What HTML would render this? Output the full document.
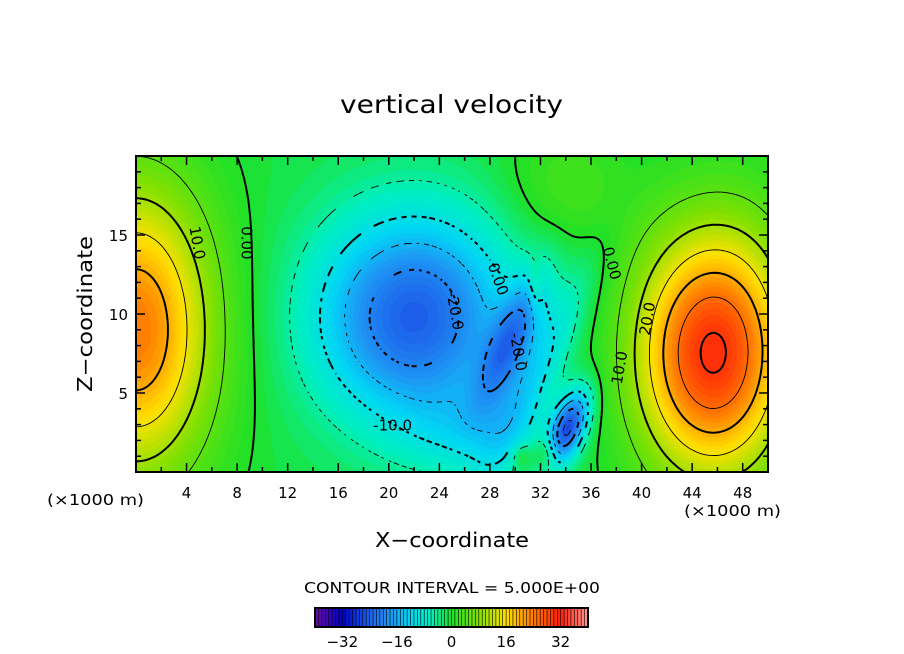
<!DOCTYPE html>
<html><head><meta charset="utf-8"><style>
body{margin:0;background:#fff;width:904px;height:654px;overflow:hidden;font-family:"Liberation Sans",sans-serif}
#wrap{position:relative;width:904px;height:654px}
canvas{position:absolute;left:136px;top:156px}
svg{position:absolute;left:0;top:0}
text{font-family:"DejaVu Sans","Liberation Sans",sans-serif;fill:#000}
</style></head><body>
<div id="wrap">
<canvas id="fill" width="632" height="316"></canvas>
<svg id="s" width="904" height="654">
<text x="340" y="113" font-size="25" textLength="223" lengthAdjust="spacingAndGlyphs">vertical velocity</text>
<text transform="translate(92,392) rotate(-90)" font-size="20" textLength="156" lengthAdjust="spacingAndGlyphs">Z−coordinate</text>
<text x="375" y="547" font-size="20" textLength="154" lengthAdjust="spacingAndGlyphs">X−coordinate</text>
<text x="47" y="505" font-size="15" textLength="97" lengthAdjust="spacingAndGlyphs">(×1000 m)</text>
<text x="684" y="516" font-size="15" textLength="97" lengthAdjust="spacingAndGlyphs">(×1000 m)</text>
<text x="304" y="593" font-size="15" textLength="296" lengthAdjust="spacingAndGlyphs">CONTOUR INTERVAL = 5.000E+00</text>
<g id="contours"></g>
<g id="axes"></g>
<g id="labels"></g>
<g id="cbar"></g>
</svg>
</div>
<script>
// field built from blob components (km units)
const blobX   = [0,   45,   22,   29.6, 34.2, 32.5, 31.6, 34,  27,  31.5, 30.5, 49];
const blobZ   = [9,   7.5,  9.8,  8.3,  2.8,  1.2,  11.7, 18,  2.5, 6,    1.0,  8];
const blobAmp = [25,  29,  -23.5,-15,  -24,   7,    5,    4,  -6,  -7,    5,    6];
const blobSX  = [4.3, 4.0,  5.4,  1.1,  0.9,  0.7,  0.4,  3.5, 4,   1.2,  0.6,  3];
const blobSZ  = [6.5, 5.5,  4.6,  3.3,  1.8,  0.8,  1.2,  3,   2,   6,    0.6,  6];
const blobRot = [0,   0,    0,    0.5,  0.5,  0,    0,    0,   0,   0.55, 0,    0];
const background = -1.0;
const xTicks = [4,8,12,16,20,24,28,32,36,40,44,48];
const zTicks = [5,10,15];
const cbTicks = [-32,-16,0,16,32];
const levels = [-35,-30,-25,-20,-15,-10,-5,0,5,10,15,20,25,30,35];
const cLabels = [["10.0",4.8,14.5,80],["0.00",8.7,14.5,90],["-20.0",25.2,10.2,80],["-10.0",20.3,2.9,0],["-20.0",30.2,7.6,80],["0.00",28.6,12.2,70],["0.00",37.6,13.2,75],["10.0",38.3,6.6,-80],["20.0",40.5,9.7,-80]];

const X0=136,X1=768,Y0=156,Y1=472,XMAX=50,ZMAX=20;
const sx=x=>X0+(x/XMAX)*(X1-X0), sy=z=>Y1-(z/ZMAX)*(Y1-Y0);
function field(x,z){let v=background;for(let i=0;i<blobX.length;i++){let dx=x-blobX[i],dz=z-blobZ[i];const c=Math.cos(blobRot[i]),s=Math.sin(blobRot[i]);const u=dx*c-dz*s,w=dx*s+dz*c;v+=blobAmp[i]*Math.exp(-(u*u)/(2*blobSX[i]**2)-(w*w)/(2*blobSZ[i]**2));}return v;}
const stops=[[-40,[110,10,170]],[-32,[0,0,200]],[-24,[30,100,235]],[-18,[30,150,245]],[-12,[0,215,245]],[-6,[0,240,190]],[0,[30,225,40]],[8,[130,225,0]],[16,[255,225,0]],[24,[255,120,0]],[32,[255,30,10]],[40,[255,150,150]]];
function cmap(v){v=Math.max(-40,Math.min(40,Math.floor(v)+0.5));for(let i=0;i<stops.length-1;i++){const a=stops[i],b=stops[i+1];if(v<=b[0]){const t=(v-a[0])/(b[0]-a[0]);return a[1].map((c,k)=>Math.round(c+(b[1][k]-c)*t));}}return stops[stops.length-1][1];}
const ctx=document.getElementById('fill').getContext('2d');const img=ctx.createImageData(632,316);
for(let j=0;j<316;j++)for(let i=0;i<632;i++){const x=(i+0.5)/632*XMAX,z=(1-(j+0.5)/316)*ZMAX;const c=cmap(field(x,z));const p=(j*632+i)*4;img.data[p]=c[0];img.data[p+1]=c[1];img.data[p+2]=c[2];img.data[p+3]=255;}
ctx.putImageData(img,0,0);
const NS='http://www.w3.org/2000/svg';
function mk(tag,attrs,parent){const e=document.createElementNS(NS,tag);for(const k in attrs)e.setAttribute(k,attrs[k]);parent.appendChild(e);return e;}
const NX=250,NZ=100,dx=XMAX/NX,dz=ZMAX/NZ;const G=[];
for(let j=0;j<=NZ;j++){G[j]=[];for(let i=0;i<=NX;i++)G[j][i]=field(i*dx,j*dz);}
const cg=document.getElementById('contours');
levels.forEach(L=>{let d='';
 for(let j=0;j<NZ;j++)for(let i=0;i<NX;i++){
  const v=[G[j][i],G[j][i+1],G[j+1][i+1],G[j+1][i]];const P=[[i*dx,j*dz],[(i+1)*dx,j*dz],[(i+1)*dx,(j+1)*dz],[i*dx,(j+1)*dz]];
  const pts=[];for(let e=0;e<4;e++){const a=v[e],b=v[(e+1)%4];if((a<L)!==(b<L)){const t=(L-a)/(b-a);const pa=P[e],pb=P[(e+1)%4];pts.push([pa[0]+(pb[0]-pa[0])*t,pa[1]+(pb[1]-pa[1])*t]);}}
  for(let k=0;k+1<pts.length;k+=2){const ax=sx(pts[k][0]),ay=sy(pts[k][1]),bx=sx(pts[k+1][0]),by=sy(pts[k+1][1]);
   if(L<0&&Math.floor((ax+ay)/5)%2===1)continue;
   d+=`M${ax.toFixed(1)},${ay.toFixed(1)}L${bx.toFixed(1)},${by.toFixed(1)}`;}
 }
 const p=mk('path',{d:d,fill:'none',stroke:'#000','stroke-width':(L%10===0)?2:0.9},cg);
 
 
});
const lg=document.getElementById('labels');
cLabels.forEach(l=>{const t=mk('text',{transform:`translate(${sx(l[1])},${sy(l[2])}) rotate(${l[3]})`,'font-size':15,'text-anchor':'middle','dominant-baseline':'middle'},lg);t.textContent=l[0];
 
 });
const ag=document.getElementById('axes');
const fr=mk('rect',{x:X0,y:Y0,width:X1-X0,height:Y1-Y0,fill:'none',stroke:'#000','stroke-width':2},ag);


for(let x=2;x<50;x+=2){const L=(x%4===0)?9:5;mk('line',{x1:sx(x),x2:sx(x),y1:Y1,y2:Y1-L,stroke:'#000','stroke-width':1.5},ag);mk('line',{x1:sx(x),x2:sx(x),y1:Y0,y2:Y0+L,stroke:'#000','stroke-width':1.5},ag);}
for(let z=1;z<20;z++){const L=(z%5===0)?9:5;mk('line',{x1:X0,x2:X0+L,y1:sy(z),y2:sy(z),stroke:'#000','stroke-width':1.5},ag);mk('line',{x1:X1,x2:X1-L,y1:sy(z),y2:sy(z),stroke:'#000','stroke-width':1.5},ag);}
xTicks.forEach(x=>{const t=mk('text',{x:sx(x),y:498,'font-size':15,'text-anchor':'middle'},ag);t.textContent=x;
 
 });
zTicks.forEach(z=>{const t=mk('text',{x:128,y:sy(z)+6,'font-size':15,'text-anchor':'end'},ag);t.textContent=z;
 
 });
const cb=document.getElementById('cbar');const CB0=315,CB1=588,CBY=608,CBH=19;const cx=v=>CB0+(v+40)/80*(CB1-CB0);
for(let v=-40;v<40;v++){const c=cmap(v+0.5);const r=mk('rect',{x:cx(v),y:CBY,width:(CB1-CB0)/80+0.2,height:CBH,fill:`rgb(${c})`},cb);
 
 
 if(v>-40)mk('line',{x1:cx(v),x2:cx(v),y1:CBY,y2:CBY+CBH,stroke:'#000','stroke-width':0.6},cb);}
mk('rect',{x:CB0,y:CBY,width:CB1-CB0,height:CBH,fill:'none',stroke:'#000','stroke-width':2},cb);
cbTicks.forEach(v=>{const t=mk('text',{x:cx(v),y:647,'font-size':15,'text-anchor':'middle'},cb);t.textContent=v<0?'−'+(-v):v;
 
 });
</script>
</body></html>
